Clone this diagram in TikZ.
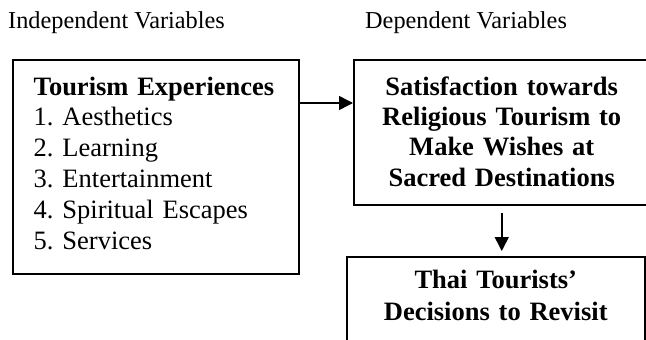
\documentclass[tikz,border=0pt]{standalone}
\usepackage{fontspec}
\setmainfont{Liberation Serif}
\usetikzlibrary{arrows.meta,positioning,calc}
\frenchspacing

\begin{document}
\begin{tikzpicture}[x=1pt,y=-1pt]
	\tikzset{>={Triangle[length=14pt,width=14pt]}}
	\tikzset{box/.style={draw,line width=1.5pt,inner ysep=0pt,anchor=north west}}
	\tikzset{head/.style={anchor=base west,inner sep=0pt,font=\fontsize{24.3}{29}\selectfont}}
	\useasboundingbox (0,0) rectangle (646,340);
	\clip (0,0) rectangle (646,340);

	\node[head] (ivhead) at (8,28) {Independent Variables};
	\node[head] (dvhead) at (365,28) {Dependent Variables};

	\node[box,inner xsep=21pt,text width=244pt,align=left,text height=35.3pt,text depth=178.7pt,
		font=\fontsize{26.5}{30.8}\selectfont] (iv) at (12,59)
		{\textbf{Tourism Experiences}\\1. Aesthetics\\2. Learning\\3. Entertainment\\4. Spiritual Escapes\\5. Services};
	\node[box,inner xsep=10pt,text width=276pt,align=center,text height=35.7pt,text depth=109.3pt,
		font=\bfseries\fontsize{26.5}{30.2}\selectfont] (dv) at (353,59)
		{Satisfaction towards\\Religious Tourism to\\Make Wishes at\\Sacred Destinations};
	\node[box,inner xsep=10pt,text width=278pt,align=center,text height=31.5pt,text depth=60pt,
		font=\bfseries\fontsize{26.5}{32.5}\selectfont] (revisit) at (346,256)
		{Thai Tourists'\\Decisions to Revisit};

	\draw[->,line width=1.5pt] (iv.north east) ++(0,44) coordinate (ivout) -- (ivout -| dv.west);
	\draw[->,line width=1.5pt] ($(dv.south)+(0,7)$) -- ($(dv.south |- revisit.north)+(0,-5)$);
\end{tikzpicture}
\end{document}
